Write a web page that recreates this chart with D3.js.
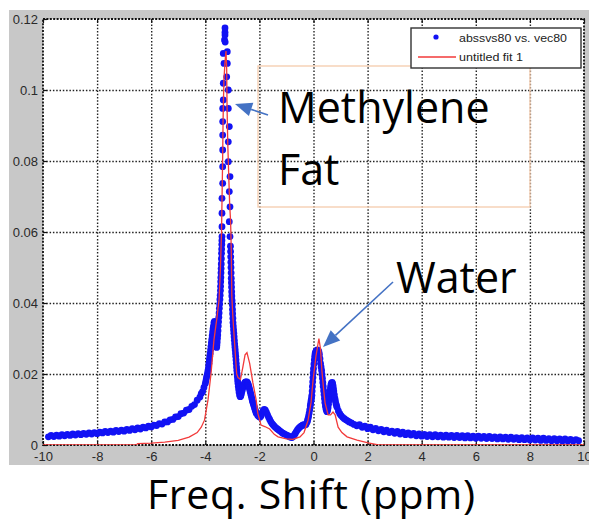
<!DOCTYPE html>
<html>
<head>
<meta charset="utf-8">
<script src="https://cdn.jsdelivr.net/npm/d3@7"></script>
<style>
  body { margin: 0; background: #fff; }
  svg { display: block; }
</style>
</head>
<body>
<svg id="chart" width="589" height="520"></svg>
<script>
// Axis ticks
const xTicks = [-10, -8, -6, -4, -2, 0, 2, 4, 6, 8, 10];
const xTickLabels = ["-10", "-8", "-6", "-4", "-2", "0", "2", "4", "6", "8", "10"];
const yTicks = [0, 0.02, 0.04, 0.06, 0.08, 0.1, 0.12];
const yTickLabels = ["0", "0.02", "0.04", "0.06", "0.08", "0.1", "0.12"];

// Measured spectrum (abssvs80 vs. vec80): [shift ppm, amplitude]
const measuredLeftTail = [
  [-9.8,.0023],[-9.7,.0027],[-9.6,.0024],[-9.5,.0028],[-9.4,.0025],[-9.3,.0029],[-9.2,.0026],[-9.1,.0030],
  [-9.0,.0027],[-8.9,.0031],[-8.8,.0028],[-8.7,.0032],[-8.6,.0029],[-8.5,.0033],[-8.4,.0030],[-8.3,.0034],
  [-8.2,.0031],[-8.1,.0035],[-8.0,.0032],[-7.9,.0036],[-7.8,.0034],[-7.7,.0038],[-7.6,.0035],[-7.5,.0039],
  [-7.4,.0036],[-7.3,.0041],[-7.2,.0038],[-7.1,.0042],[-7.0,.0039],[-6.9,.0044],[-6.8,.0041],[-6.7,.0046],
  [-6.6,.0043],[-6.5,.0048],[-6.4,.0045],[-6.3,.0050],[-6.2,.0048],[-6.1,.0053],[-6.0,.0051],[-5.9,.0056],
  [-5.8,.0055],[-5.7,.0060],[-5.6,.0059],[-5.5,.0065],[-5.4,.0065],[-5.3,.0071],[-5.2,.0072],[-5.1,.0079],
  [-5.0,.0080],[-4.9,.0088],[-4.8,.0090],[-4.7,.0098],[-4.6,.0100],[-4.5,.0109],[-4.4,.0114],[-4.3,.0126],
  [-4.2,.0135],[-4.15,.0145],[-4.1,.0150],[-4.05,.0162],[-4.0,.0173]
];
const measuredFatPeak = [
  [-3.98,.0180],[-3.96,.0188],[-3.94,.0195],[-3.92,.0202],[-3.90,.0210],[-3.88,.0220],[-3.865,.0230],
  [-3.85,.0240],[-3.835,.0249],[-3.82,.0258],[-3.805,.0268],[-3.79,.0278],[-3.775,.0288],[-3.76,.0298],
  [-3.745,.0308],[-3.73,.0318],[-3.715,.0327],[-3.70,.0335],[-3.68,.0345],[-3.66,.0348],[-3.65,.0345],
  [-3.64,.0340],[-3.63,.0331],[-3.62,.0320],[-3.61,.0308],[-3.60,.0295],[-3.59,.0285],[-3.58,.0275],
  [-3.57,.0282],[-3.56,.0290],[-3.55,.0300],[-3.54,.0310],[-3.53,.0322],[-3.52,.0335],[-3.51,.0347],
  [-3.50,.0360],[-3.49,.0372],[-3.48,.0385],[-3.47,.0397],[-3.46,.0410],[-3.45,.0422],[-3.44,.0435],
  [-3.435,.0447],[-3.43,.0460],[-3.425,.0472],[-3.42,.0485],[-3.415,.0497],[-3.41,.0510],[-3.405,.0525],
  [-3.40,.0540],[-3.395,.0552],[-3.39,.0565],[-3.386,.0576],
  [-3.383,.0587],[-3.383,.0615],[-3.383,.0653],[-3.383,.0695],[-3.357,.0737],[-3.357,.0784],[-3.357,.0831],
  [-3.357,.0873],[-3.357,.0911],[-3.357,.0948],[-3.335,.0972],[-3.335,.1019],[-3.309,.1075],[-3.335,.1103],
  [-3.29,.1141],[-3.272,.1155],[-3.272,.1163],[-3.272,.1175],[-3.265,.1135],
  [-3.187,.1108],[-3.187,.1075],[-3.209,.1037],[-3.150,.1000],[-3.150,.0948],[-3.113,.0897],[-3.150,.0854],
  [-3.150,.0798],[-3.087,.0756],[-3.113,.0714],[-3.087,.0671],[-3.113,.0629],[-3.087,.0587],
  [-3.07,.0560],[-3.065,.0545],[-3.06,.0530],[-3.055,.0515],[-3.05,.0500],[-3.045,.0485],[-3.04,.0470],
  [-3.035,.0457],[-3.03,.0445],[-3.025,.0432],[-3.02,.0420],[-3.01,.0407],[-3.00,.0395],[-2.995,.0382],
  [-2.99,.0370],[-2.98,.0357],[-2.975,.0345],[-2.965,.0335],[-2.955,.0325],[-2.945,.0315],[-2.935,.0305],
  [-2.925,.0295],[-2.915,.0285],[-2.905,.0276],[-2.895,.0268],[-2.885,.0259],[-2.875,.0250],[-2.865,.0240],
  [-2.855,.0230],[-2.845,.0220],[-2.835,.0210],[-2.825,.0201],[-2.815,.0192],[-2.805,.0183],[-2.795,.0175],
  [-2.78,.0165],[-2.765,.0156],[-2.75,.0148],[-2.73,.0140],[-2.71,.0136],[-2.69,.0138],[-2.67,.0143],
  [-2.65,.0150],[-2.635,.0155],[-2.62,.0160],[-2.60,.0164],[-2.58,.0168],[-2.56,.0172],[-2.54,.0175],
  [-2.52,.0177],[-2.50,.0178],[-2.46,.0178],[-2.44,.0175],[-2.42,.0172],[-2.40,.0167],[-2.38,.0162],
  [-2.36,.0156],[-2.34,.0150],[-2.32,.0144],[-2.30,.0138],[-2.28,.0131],[-2.26,.0125],[-2.24,.0120],
  [-2.22,.0115],[-2.20,.0110],[-2.18,.0105],[-2.16,.0100],[-2.14,.0095],[-2.12,.0091],[-2.10,.0088],
  [-2.06,.0083],[-2.02,.0080],[-1.98,.0078],[-1.94,.0082],
  [-1.90,.0090],[-1.86,.0097],[-1.82,.0100],[-1.78,.0098],[-1.74,.0092],[-1.70,.0085],[-1.66,.0078],
  [-1.62,.0072],[-1.58,.0066],[-1.54,.0061],[-1.50,.0057],[-1.45,.0053],[-1.40,.0049],[-1.35,.0046],
  [-1.30,.0043],[-1.25,.0040],[-1.20,.0037],[-1.15,.0034],[-1.10,.0032],[-1.05,.0030],[-1.00,.0028],
  [-0.95,.0026],[-0.90,.0024],[-0.85,.0022],[-0.80,.0021]
];
const measuredWaterPeak = [
  [-0.76,.0023],[-0.72,.0027],[-0.68,.0032],[-0.64,.0037],[-0.60,.0042],[-0.56,.0046],[-0.52,.0049],
  [-0.48,.0052],[-0.44,.0054],[-0.40,.0056],[-0.36,.0057],[-0.32,.0056],[-0.28,.0058],[-0.24,.0064],
  [-0.22,.0069],[-0.20,.0075],[-0.18,.0082],[-0.16,.0090],[-0.14,.0099],[-0.12,.0110],[-0.105,.0117],
  [-0.09,.0125],[-0.075,.0132],[-0.06,.0140],[-0.05,.0152],[-0.04,.0165],[-0.03,.0178],[-0.02,.0190],
  [-0.01,.0203],[0.00,.0215],[0.015,.0228],[0.03,.0240],[0.045,.0250],[0.06,.0258],[0.08,.0262],
  [0.10,.0265],[0.14,.0268],[0.18,.0266],[0.20,.0262],[0.22,.0255],[0.24,.0243],[0.26,.0230],
  [0.28,.0220],[0.30,.0210],[0.315,.0199],[0.33,.0188],[0.345,.0176],[0.36,.0165],[0.375,.0153],
  [0.39,.0142],[0.405,.0131],[0.42,.0120],[0.44,.0110],[0.46,.0102],[0.48,.0097],[0.50,.0094],
  [0.52,.0098],[0.54,.0105],[0.555,.0115],[0.57,.0125],[0.585,.0135],[0.60,.0145],[0.615,.0154],
  [0.63,.0163],[0.645,.0169],[0.66,.0174],[0.69,.0176],[0.705,.0173],[0.72,.0168],[0.735,.0160],
  [0.75,.0152],[0.77,.0142],[0.79,.0132],[0.81,.0124],[0.83,.0116],[0.85,.0111],[0.87,.0106],
  [0.92,.0096],[0.97,.0088],[1.02,.0083],[1.08,.0078],[1.14,.0074],[1.20,.0071],[1.26,.0068],
  [1.32,.0065],[1.40,.0062],[1.50,.0058]
];
const measuredRightTail = [
  [1.6,.0054],[1.7,.0057],[1.8,.0050],[1.9,.0053],[2.0,.0046],[2.1,.0050],[2.2,.0043],[2.3,.0047],
  [2.4,.0040],[2.5,.0044],[2.6,.0037],[2.7,.0042],[2.8,.0035],[2.9,.0039],[3.0,.0033],[3.1,.0038],
  [3.2,.0031],[3.3,.0036],[3.4,.0029],[3.5,.0034],[3.6,.0028],[3.7,.0033],[3.8,.0026],[3.9,.0031],
  [4.0,.0025],[4.1,.0030],[4.2,.0024],[4.3,.0029],[4.4,.0023],[4.5,.0029],[4.6,.0023],[4.7,.0028],
  [4.8,.0022],[4.9,.0028],[5.0,.0022],[5.1,.0027],[5.2,.0021],[5.3,.0027],[5.4,.0021],[5.5,.0026],
  [5.6,.0020],[5.7,.0026],[5.8,.0020],[5.9,.0025],[6.0,.0019],[6.1,.0025],[6.2,.0019],[6.3,.0024],
  [6.4,.0018],[6.5,.0024],[6.6,.0018],[6.7,.0023],[6.8,.0017],[6.9,.0023],[7.0,.0017],[7.1,.0022],
  [7.2,.0016],[7.3,.0022],[7.4,.0016],[7.5,.0021],[7.6,.0015],[7.7,.0021],[7.8,.0015],[7.9,.0020],
  [8.0,.0014],[8.1,.0020],[8.2,.0014],[8.3,.0019],[8.4,.0013],[8.5,.0019],[8.6,.0013],[8.7,.0018],
  [8.8,.0012],[8.9,.0018],[9.0,.0012],[9.1,.0017],[9.2,.0011],[9.3,.0017],[9.4,.0011],[9.5,.0016],
  [9.6,.0011],[9.7,.0015],[9.8,.0012]
];

// Fitted model (untitled fit 1): [shift ppm, amplitude]
const fitCurve = [
  [-10,0],[-6.55,0],[-6.5,.0004],[-6.0,.0005],[-5.5,.0008],[-5.0,.0013],[-4.6,.0022],[-4.3,.0035],
  [-4.15,.0050],[-4.03,.0070],[-3.90,.0127],[-3.79,.0200],[-3.68,.0296],[-3.567,.0360],[-3.49,.0410],
  [-3.44,.0500],[-3.40,.0600],[-3.38,.0700],[-3.36,.0800],[-3.345,.0900],[-3.335,.0950],[-3.31,.1030],
  [-3.27,.1080],[-3.235,.1110],[-3.21,.1060],[-3.195,.0950],[-3.17,.0850],[-3.13,.0750],[-3.10,.0680],
  [-3.065,.0630],[-3.04,.0550],[-3.02,.0420],[-2.98,.0360],[-2.90,.0268],[-2.84,.0200],[-2.79,.0190],
  [-2.70,.0185],[-2.61,.0220],[-2.53,.0254],[-2.46,.0260],[-2.36,.0230],[-2.24,.0175],[-2.12,.0127],
  [-2.06,.0090],[-1.94,.0056],[-1.80,.0052],[-1.62,.0045],[-1.45,.0030],[-1.31,.0023],[-1.00,.0017],
  [-0.76,.0016],[-0.50,.0023],[-0.35,.0035],[-0.20,.0070],[-0.09,.0120],[-0.02,.0180],[0.09,.0250],
  [0.20,.0300],[0.26,.0270],[0.31,.0210],[0.37,.0160],[0.43,.0118],[0.54,.0085],[0.63,.0085],
  [0.72,.0093],[0.80,.0085],[0.91,.0050],[1.05,.0035],[1.24,.0023],[1.61,.0014],[2.02,.0006],
  [2.35,.0001],[10,0]
];

const svg = d3.select("#chart");
const W = 589, H = 520;
const plotL = 43, plotR = 584, plotT = 19, plotB = 445;

const x = d3.scaleLinear().domain([-10, 10]).range([plotL, plotR]);
const y = d3.scaleLinear().domain([0, 0.12]).range([plotB, plotT]);

// Figure background
svg.append("rect").attr("x", 9).attr("y", 10).attr("width", W - 9).attr("height", 455)
  .attr("fill", "#c8c8c8");
svg.append("rect").attr("x", plotL).attr("y", plotT).attr("width", plotR - plotL).attr("height", plotB - plotT)
  .attr("fill", "#fff");

// Dotted grid from the axis generators
const gridStyle = g => {
  g.select(".domain").remove();
  g.selectAll("line").attr("stroke", "#222").attr("stroke-width", 1.4).attr("stroke-dasharray", "1.5,1.8");
  g.selectAll("text").remove();
};
svg.append("g").attr("transform", `translate(0,${plotB})`)
  .call(d3.axisBottom(x).tickValues(xTicks.slice(1, -1)).tickSize(-(plotB - plotT)))
  .call(gridStyle);
svg.append("g").attr("transform", `translate(${plotL},0)`)
  .call(d3.axisLeft(y).tickValues(yTicks.slice(1, -1)).tickSize(-(plotR - plotL)))
  .call(gridStyle);

// Inward tick marks on all four sides
const tickStyle = g => {
  g.select(".domain").remove();
  g.selectAll("line").attr("stroke", "#111").attr("stroke-width", 1.2);
  g.selectAll("text").remove();
};
svg.append("g").attr("transform", `translate(0,${plotB})`)
  .call(d3.axisBottom(x).tickValues(xTicks).tickSize(-4)).call(tickStyle);
svg.append("g").attr("transform", `translate(0,${plotT})`)
  .call(d3.axisTop(x).tickValues(xTicks).tickSize(-4)).call(tickStyle);
svg.append("g").attr("transform", `translate(${plotL},0)`)
  .call(d3.axisLeft(y).tickValues(yTicks).tickSize(-4)).call(tickStyle);
svg.append("g").attr("transform", `translate(${plotR},0)`)
  .call(d3.axisRight(y).tickValues(yTicks).tickSize(-4)).call(tickStyle);

// Tick labels
const labelStyle = g => {
  g.select(".domain").remove();
  g.selectAll("line").remove();
  g.selectAll("text").attr("font-family", "'Liberation Sans', Arial, sans-serif")
    .attr("font-size", 13).attr("fill", "#2a2a2a");
};
svg.append("g").attr("transform", `translate(0,${plotB})`)
  .call(d3.axisBottom(x).tickValues(xTicks).tickSize(0).tickPadding(7)
    .tickFormat((d, i) => xTickLabels[i]))
  .call(labelStyle);
svg.append("g").attr("transform", `translate(${plotL},0)`)
  .call(d3.axisLeft(y).tickValues(yTicks).tickSize(0).tickPadding(5)
    .tickFormat((d, i) => yTickLabels[i]))
  .call(labelStyle);

// Plot frame
svg.append("rect").attr("x", plotL).attr("y", plotT).attr("width", plotR - plotL).attr("height", plotB - plotT)
  .attr("fill", "none").attr("stroke", "#111").attr("stroke-width", 1.8).attr("stroke-dasharray", "2,1.4");

svg.append("clipPath").attr("id", "plotClip").append("rect")
  .attr("x", plotL).attr("y", plotT - 4).attr("width", plotR - plotL).attr("height", plotB - plotT + 4);

const plot = svg.append("g").attr("clip-path", "url(#plotClip)");

// Measured points
const measured = [].concat(measuredLeftTail, measuredFatPeak, measuredWaterPeak, measuredRightTail);
plot.append("g").selectAll("circle").data(measured).join("circle")
  .attr("cx", d => x(d[0])).attr("cy", d => y(d[1])).attr("r", 3.4)
  .attr("fill", "#1212f4");

// Fitted curve
plot.append("path").datum(fitCurve)
  .attr("d", d3.line().x(d => x(d[0])).y(d => y(d[1])))
  .attr("fill", "none").attr("stroke", "#f23a3a").attr("stroke-width", 1.3);

// Highlight box behind the fat label
svg.append("rect").attr("x", 258).attr("y", 66).attr("width", 272).attr("height", 141)
  .attr("fill", "none").attr("stroke", "#f6cfb2").attr("stroke-width", 1.4);

// Legend
const legend = svg.append("g");
legend.append("rect").attr("x", 411).attr("y", 28).attr("width", 170).attr("height", 40)
  .attr("fill", "#fff").attr("stroke", "#333").attr("stroke-width", 1.4);
legend.append("circle").attr("cx", 436).attr("cy", 37).attr("r", 2.6).attr("fill", "#1212f4");
legend.append("line").attr("x1", 418).attr("x2", 456).attr("y1", 57).attr("y2", 57)
  .attr("stroke", "#f23a3a").attr("stroke-width", 1.3);
legend.append("text").attr("x", 459).attr("y", 42).text("abssvs80 vs. vec80")
  .attr("font-family", "'Liberation Sans', Arial, sans-serif").attr("font-size", 11.5)
  .attr("fill", "#222").attr("textLength", 108).attr("lengthAdjust", "spacingAndGlyphs");
legend.append("text").attr("x", 459).attr("y", 61).text("untitled fit 1")
  .attr("font-family", "'Liberation Sans', Arial, sans-serif").attr("font-size", 11.5)
  .attr("fill", "#222").attr("textLength", 64).attr("lengthAdjust", "spacingAndGlyphs");

// Annotations
const annFont = "'Open Sans', 'Noto Sans', sans-serif";
const ann = svg.append("g").attr("font-family", annFont).attr("fill", "#000");
ann.append("text").attr("x", 278).attr("y", 123).attr("font-size", 43).text("Methylene");
ann.append("text").attr("x", 278).attr("y", 185).attr("font-size", 43).text("Fat");
ann.append("text").attr("x", 396).attr("y", 293).attr("font-size", 43).text("Water");
svg.append("text").attr("x", 147).attr("y", 509).attr("font-family", annFont).attr("font-size", 41)
  .attr("fill", "#000").attr("textLength", 328).attr("lengthAdjust", "spacing")
  .text("Freq. Shift (ppm)");

// Callout arrows
function arrow(x1, y1, x2, y2) {
  const col = "#4472c4";
  const ang = Math.atan2(y2 - y1, x2 - x1);
  const len = 17, half = 7;
  const bx = x2 - len * Math.cos(ang), by = y2 - len * Math.sin(ang);
  svg.append("line").attr("x1", x1).attr("y1", y1).attr("x2", bx).attr("y2", by)
    .attr("stroke", col).attr("stroke-width", 1.6);
  const px = -Math.sin(ang) * half, py = Math.cos(ang) * half;
  svg.append("path")
    .attr("d", `M${x2},${y2}L${bx + px},${by + py}L${bx - px},${by - py}Z`)
    .attr("fill", col);
}
arrow(268, 115, 235, 104);
arrow(393, 282, 323, 347);
</script>
</body>
</html>
